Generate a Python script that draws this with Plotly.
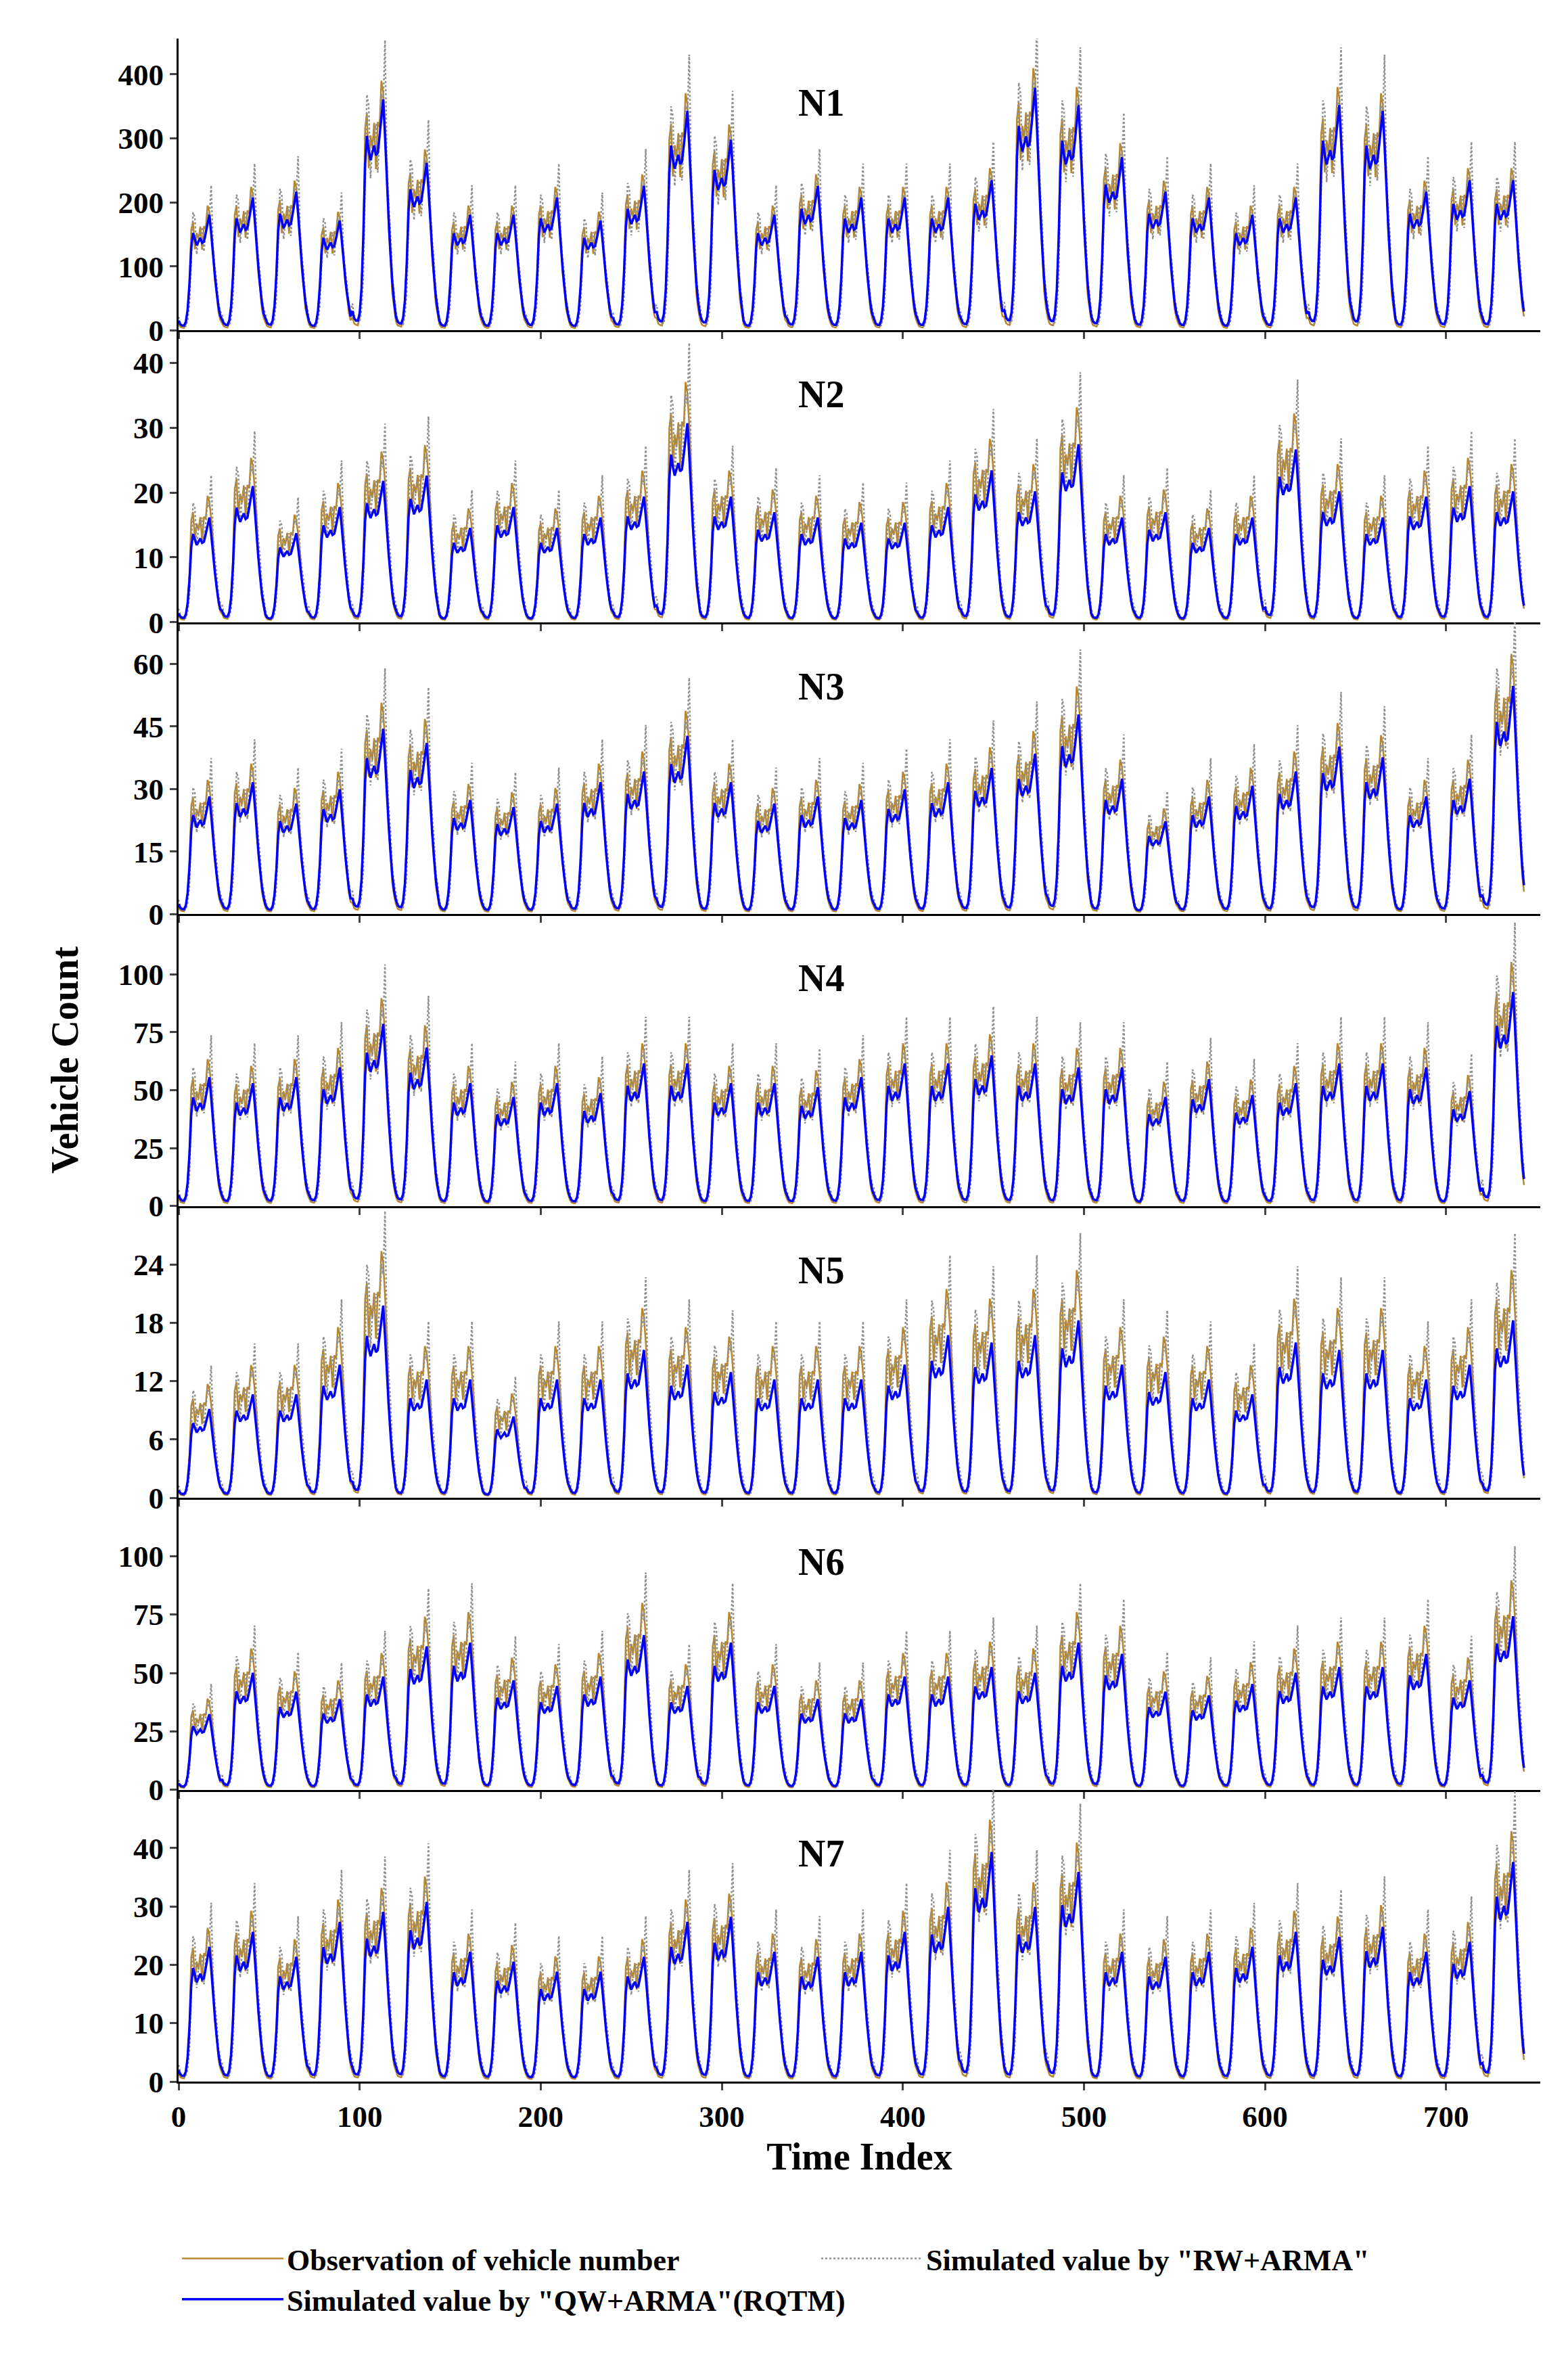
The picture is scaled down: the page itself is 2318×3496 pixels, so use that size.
import numpy as np
import plotly.graph_objects as go
from plotly.subplots import make_subplots

panels = ["N1", "N2", "N3", "N4", "N5", "N6", "N7"]
y_max = [456, 45, 70, 126, 30, 125, 50]
y_ticks = [[0,100,200,300,400],[0,10,20,30,40],[0,15,30,45,60],[0,25,50,75,100],
           [0,6,12,18,24],[0,25,50,75,100],[0,10,20,30,40]]
x_ticks = [0, 100, 200, 300, 400, 500, 600, 700]

# daily peak values (31 days per panel)
obs_peaks = [
    [200,230,240,190,400,290,200,200,230,190,250,380,330,200,250,230,230,230,260,420,390,300,240,230,200,230,390,380,240,260,260],
    [20,26,17,22,27,28,18,22,18,20,24,38,24,21,20,19,19,22,29,25,34,20,21,18,20,33,25,20,24,26,25],
    [33,37,31,35,52,48,32,30,31,37,40,50,37,31,33,32,35,37,41,45,56,38,26,33,36,40,47,44,33,38,64],
    [65,62,65,70,92,80,62,55,62,57,72,72,62,62,60,65,72,72,76,72,70,70,55,64,56,62,72,72,70,58,108],
    [12,14,14,18,26,16,16,11,16,16,20,18,17,16,16,16,18,22,21,22,24,18,17,16,14,21,20,20,16,18,24],
    [40,62,52,48,60,76,78,58,55,60,82,55,78,55,48,48,60,60,65,62,78,72,52,50,56,62,65,65,72,58,92],
    [27,30,25,32,34,36,26,24,22,22,25,32,33,26,25,26,30,35,46,35,42,26,25,26,27,30,29,31,26,28,44],
]
qw_scale = [0.95, 0.85, 0.9, 0.9, 0.8, 0.85, 0.9]

# normalised 24-hour profile read from the daily cycles
obs_shape = [0.05,0.03,0.02,0.02,0.05,0.15,0.40,0.75,0.85,0.72,0.68,0.74,0.78,0.70,0.74,0.82,0.92,1.00,0.80,0.60,0.42,0.28,0.16,0.08]
rw_shape = [0.10,0.06,0.04,0.03,0.03,0.08,0.22,0.55,0.95,0.80,0.66,0.70,0.80,0.72,0.70,0.78,0.88,0.96,1.05,0.70,0.50,0.35,0.24,0.15]
qw_shape = [0.08,0.05,0.04,0.04,0.07,0.17,0.38,0.68,0.80,0.74,0.70,0.73,0.76,0.72,0.73,0.80,0.88,0.95,0.80,0.62,0.46,0.32,0.20,0.12]
hour_jitter = [1.0,0.9,1.1,1.0,0.95,1.08,0.92,1.05,1.0,0.88,1.12,0.96,1.04,0.9,1.1,0.97,1.06,0.93,1.0,1.08,0.94,1.02,0.9,1.05]

fig = make_subplots(rows=7, cols=1, shared_xaxes=True, vertical_spacing=0)
obs_c, rw_c, qw_c = "#B8862B", "#909090", "#0000FF"
for i, name in enumerate(panels):
    peaks = obs_peaks[i]
    t = np.arange(len(peaks) * 24)
    obs = np.array([p * s * j for p in peaks for s, j in zip(obs_shape, hour_jitter)])
    rw = np.array([p * s * j for p in peaks for s, j in zip(rw_shape, hour_jitter[::-1])])
    qw = np.array([p * qw_scale[i] * s for p in peaks for s in qw_shape])
    sl = i == 0
    fig.add_trace(go.Scatter(x=t, y=obs, mode="lines", line=dict(color=obs_c, width=2.5),
                             name="<b>Observation of vehicle number</b>", showlegend=sl, legendrank=1), row=i+1, col=1)
    fig.add_trace(go.Scatter(x=t, y=rw, mode="lines", line=dict(color=rw_c, width=2.5, dash="dot"),
                             name='<b>Simulated value by "RW+ARMA"</b>', showlegend=sl, legendrank=2), row=i+1, col=1)
    fig.add_trace(go.Scatter(x=t, y=qw, mode="lines", line=dict(color=qw_c, width=3.5),
                             name='<b>Simulated value by "QW+ARMA"(RQTM)</b>', showlegend=sl, legendrank=3), row=i+1, col=1)
    fig.update_yaxes(range=[0, y_max[i]], tickvals=y_ticks[i], ticktext=["<b>%d</b>" % v for v in y_ticks[i]],
                     row=i+1, col=1,
                     showline=True, linecolor="black", linewidth=3, ticks="outside",
                     ticklen=10, tickwidth=3, showgrid=False, zeroline=False)
    fig.update_xaxes(range=[0, 752], tickvals=x_ticks, ticktext=["<b>%d</b>" % v for v in x_ticks],
                     row=i+1, col=1, showline=True, linecolor="black",
                     linewidth=3, ticks="outside", ticklen=10, tickwidth=3, showgrid=False,
                     zeroline=False, showticklabels=(i == 6))
    fig.add_annotation(text="<b>%s</b>" % name, x=355, y=y_max[i] * 0.78, xref="x%d" % (i+1) if i else "x",
                       yref="y%d" % (i+1) if i else "y", showarrow=False, font=dict(size=56))

fig.update_xaxes(title_text="<b>Time Index</b>", title_font=dict(size=56), row=7, col=1)
fig.add_annotation(text="<b>Vehicle Count</b>", textangle=-90, x=-0.1, y=0.5, xref="paper",
                   yref="paper", showarrow=False, font=dict(size=56))
fig.update_layout(
    width=2318, height=3496, plot_bgcolor="white", paper_bgcolor="white",
    margin=dict(l=256, r=49, t=49, b=427),
    font=dict(family="Liberation Serif", size=45, color="black"),
    legend=dict(orientation="h", x=0.0, y=-0.075, xanchor="left", yanchor="top",
                entrywidth=780, entrywidthmode="pixels", font=dict(size=44),
                itemwidth=150),
)
fig.write_html("out.html")
